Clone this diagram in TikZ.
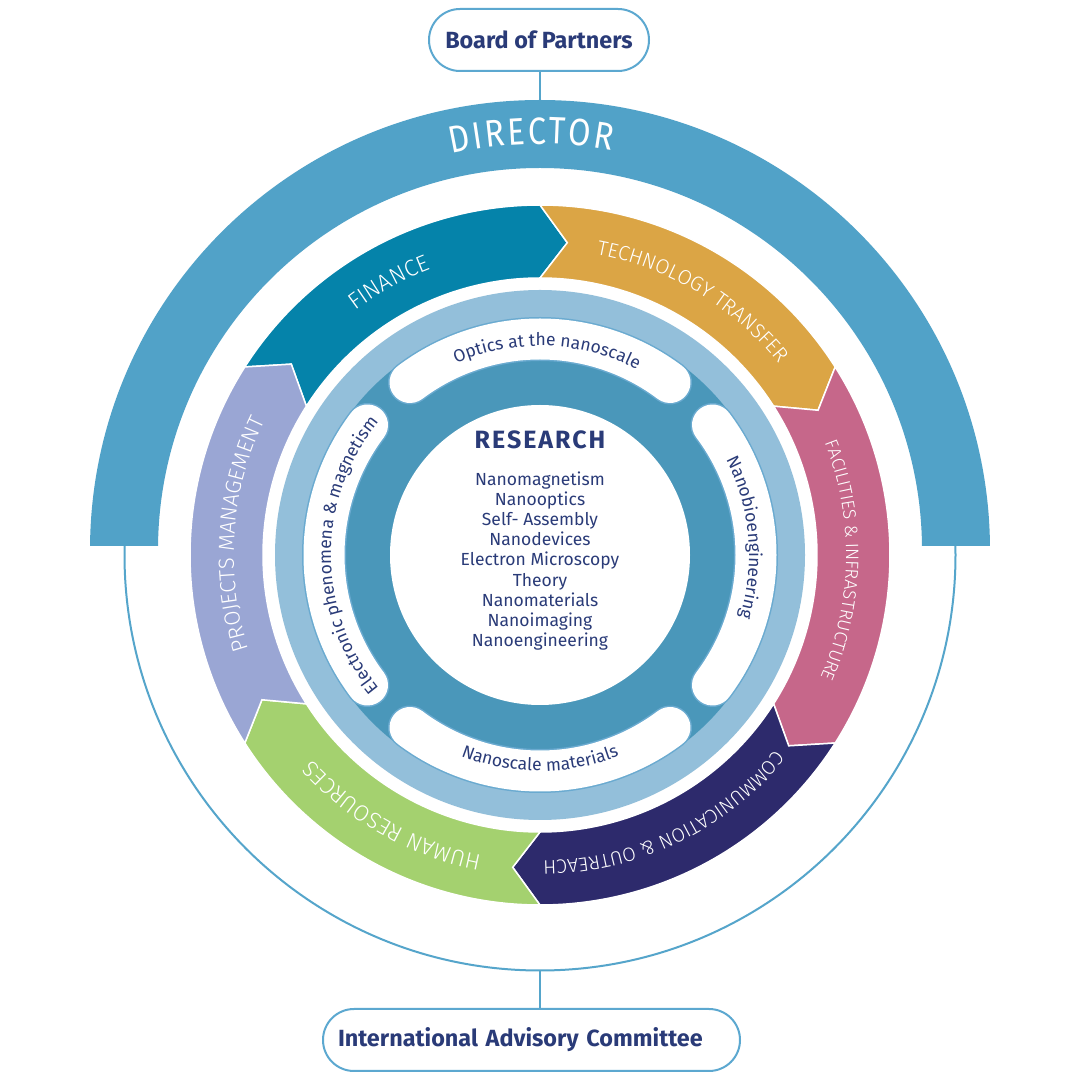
\documentclass[tikz,border=0pt]{standalone}
\usepackage{fontspec}
\setmainfont{Fira Sans}
\newfontfamily\thinfont{Fira Sans}[UprightFont={* Light},BoldFont={* Light}]
\newfontfamily\dirfontfam{Fira Sans}[FakeStretch=0.85]
\usetikzlibrary{decorations.text}
\definecolor{director}{HTML}{51A2C8}
\definecolor{thinblue}{HTML}{55A5CB}
\definecolor{boxblue}{HTML}{5CA8D0}
\definecolor{navy}{HTML}{2A3B78}
\definecolor{financec}{HTML}{0583AA}
\definecolor{techc}{HTML}{DBA545}
\definecolor{facc}{HTML}{C6678A}
\definecolor{commc}{HTML}{2D2A6C}
\definecolor{hrc}{HTML}{A4D16F}
\definecolor{pmc}{HTML}{9AA6D4}
\definecolor{lightring}{HTML}{93BFDA}
\definecolor{midring}{HTML}{4A97BA}
\definecolor{pillborder}{HTML}{6AAAD0}
\tikzset{
  box/.style={draw=boxblue, line width=2pt, rounded corners=31pt, fill=white, text=navy,
    font=\bfseries\fontsize{23.4}{26}\selectfont, inner sep=0pt, minimum height=62pt},
  conn/.style={draw=thinblue, line width=2pt},
  segbase/.style={draw=white, line width=1.5pt, line join=miter},
  pilledge/.style={draw=pillborder, line width=44pt, line cap=round},
  pillbody/.style={draw=white, line width=41pt, line cap=round},
}
% ring segment: start angle (trailing), end angle (leading), colour
\newcommand\ringseg[3]{%
  \fill[segbase, fill=#3] (#1:350) arc[start angle=#1, end angle=#2, radius=350]
    -- ({#2-5}:313.5) -- (#2:277) arc[start angle=#2, end angle=#1, radius=277]
    -- ({#1-5}:313.5) -- cycle;}
% label along clockwise arc, tops outward: angle, size, text
\newcommand\seglabel[3]{%
  \path[decorate, decoration={text along path, text align=center,
    text={|\thinfont\fontsize{#2}{#2}\selectfont\color{white}|#3}}]
    ({#1+70}:306) arc[start angle={#1+70}, end angle={#1-70}, radius=306];}
\newcommand\pillshape[1]{%
  \draw[pilledge] ({#1+37}:216) arc[start angle={#1+37}, end angle={#1-37}, radius=216];
  \draw[pillbody] ({#1+37}:216) arc[start angle={#1+37}, end angle={#1-37}, radius=216];}
\newcommand\pilllabel[2]{%
  \path[decorate, decoration={text along path, text align=center,
    text={|\fontsize{17.5}{17.5}\selectfont\color{navy}|#2}}]
    ({#1+60}:209) arc[start angle={#1+60}, end angle={#1-60}, radius=209];}
\begin{document}
\begin{tikzpicture}[x=1pt,y=1pt]
\useasboundingbox (0,0) rectangle (1080,1080);
\fill[white] (0,0) rectangle (1080,1080);

% boxes and connectors
\node[box, minimum width=220pt] (bop) at (539,1040) {Board of Partners};
\node[box, text width=387pt, inner xsep=15pt, align=left] (iac) at (531.5,40) {International Advisory Committee};
\coordinate (dirtop) at (540,980);
\coordinate (circbot) at (540,109.5);
\draw[conn] (bop.south -| dirtop) -- (dirtop);
\draw[conn] (circbot) -- (circbot |- iac.north);

% thin outer circle
\draw[thinblue, line width=2pt] (540,525) circle[radius=415.5];

% director band
\begin{scope}
  \clip (0,534) rectangle (1080,1080);
  \fill[director, even odd rule] (540,530) circle[radius=450] (540,530) circle[radius=382];
\end{scope}
\begin{scope}[shift={(540,530)}]
  \path[decorate, decoration={text along path, text align=center,
    text={|\dirfontfam\fontsize{38}{38}\selectfont\color{white}|D{\kern2.5pt}I{\kern2.5pt}R{\kern2.5pt}E{\kern2.5pt}C{\kern2.5pt}T{\kern2.5pt}O{\kern2.5pt}R}}]
    (151.2:406) arc[start angle=151.2, end angle=31.2, radius=406];
\end{scope}

\begin{scope}[shift={(540,525)}]
  % coloured chevron ring
  \ringseg{147.5}{90}{financec}
  \ringseg{90}{32.5}{techc}
  \ringseg{32.5}{-32.5}{facc}
  \ringseg{-32.5}{-90}{commc}
  \ringseg{-90}{-147.5}{hrc}
  \ringseg{212.5}{147.5}{pmc}
  \seglabel{119}{23}{FINANCE}
  \seglabel{59}{20.5}{TECHNOLOGY TRANSFER}
  \seglabel{-1}{18}{FACILITIES {\&} INFRASTRUCTURE}
  \seglabel{-64.5}{19.5}{COMMUNICATION {\&} OUTREACH}
  \seglabel{-119.5}{22.5}{HUMAN RESOURCES}
  \seglabel{176}{22}{PROJECTS MANAGEMENT}

  % research rings
  \fill[lightring] (0,0) circle[radius=265];
  \fill[midring] (0,0) circle[radius=237];
  \pillshape{90}
  \pillshape{0}
  \pillshape{-90}
  \pillshape{180}
  \fill[white] (0,0) circle[radius=150];
  \pilllabel{88}{Optics at the nanoscale}
  \pilllabel{5}{Nanobioengineering}
  \pilllabel{180}{Electronic phenomena {\&} magnetism}
  \path[decorate, decoration={text along path, text align=center,
    text={|\fontsize{17.5}{17.5}\selectfont\color{navy}|Nanoscale materials}}]
    (-150:216) arc[start angle=-150, end angle=-30, radius=216];
\end{scope}

\node[text=navy, font=\bfseries\fontsize{25}{25}\selectfont\addfontfeature{LetterSpace=8}] (research) at (540,640) {RESEARCH};
\node[text=navy, align=center, font=\fontsize{17.5}{20.1}\selectfont] (topics) at (540,519)
  {Nanomagnetism\\Nanooptics\\Self- Assembly\\Nanodevices\\Electron Microscopy\\Theory\\Nanomaterials\\Nanoimaging\\Nanoengineering};
\end{tikzpicture}
\end{document}
